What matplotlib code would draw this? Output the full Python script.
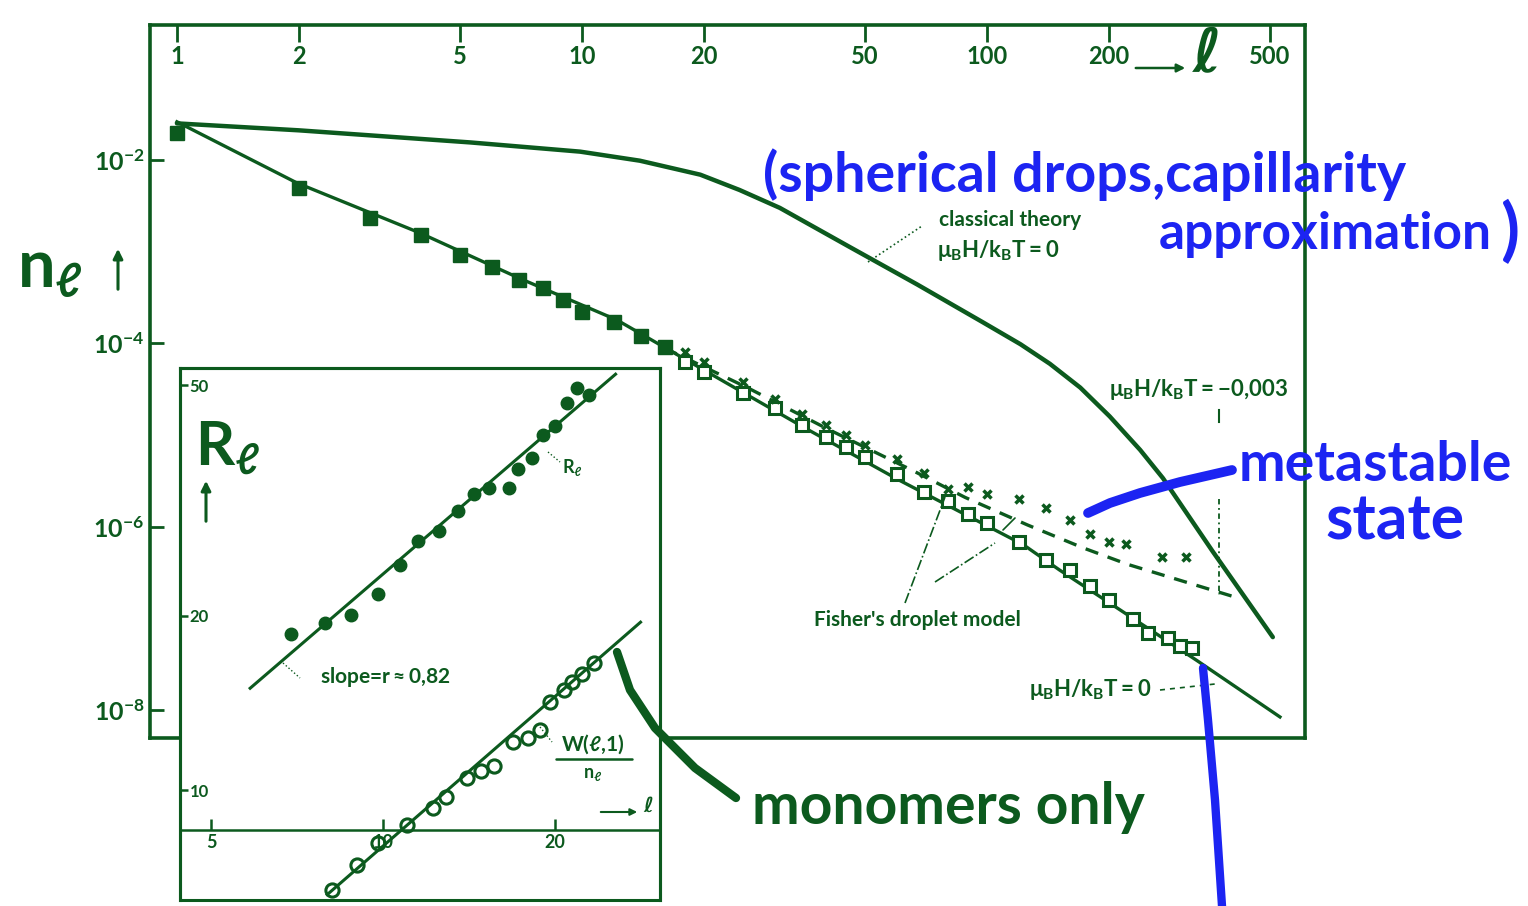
import matplotlib
matplotlib.use('Agg')
import matplotlib.pyplot as plt
from matplotlib.lines import Line2D
from matplotlib.patches import FancyArrowPatch, Rectangle
from matplotlib.ticker import NullLocator

GREEN = '#0c5a1e'
BLUE = '#1c24f2'
W, H = 1528, 906

plt.rcParams['font.family'] = ['Lato', 'DejaVu Sans']
plt.rcParams['font.weight'] = 'bold'
plt.rcParams['mathtext.fontset'] = 'custom'
plt.rcParams['mathtext.rm'] = 'Lato:bold'
plt.rcParams['mathtext.it'] = 'Lato:bold'
plt.rcParams['mathtext.bf'] = 'Lato:bold'

# ---- main panel: cluster size distribution n_l vs l ----
sq_l = [1, 2, 3, 4, 5, 6, 7, 8, 9, 10, 12, 14, 16]
sq_n = [1.95e-2, 4.9e-3, 2.3e-3, 1.5e-3, 9.3e-4, 6.8e-4, 4.9e-4, 4.0e-4,
        3.0e-4, 2.2e-4, 1.7e-4, 1.2e-4, 9.1e-5]
open_l = [18, 20, 25, 30, 35, 40, 45, 50, 60, 70, 80, 90, 100, 120, 140,
          160, 180, 200, 230, 250, 280, 300, 320]
open_n = [6.3e-5, 4.9e-5, 2.9e-5, 2.0e-5, 1.3e-5, 9.5e-6, 7.4e-6, 5.8e-6,
          3.8e-6, 2.4e-6, 1.9e-6, 1.4e-6, 1.1e-6, 6.8e-7, 4.4e-7, 3.4e-7,
          2.3e-7, 1.6e-7, 1.0e-7, 6.9e-8, 6.2e-8, 5.1e-8, 4.8e-8]
cross_l = [18, 20, 25, 30, 35, 40, 45, 50, 60, 70, 80, 90, 100, 120, 140,
           160, 180, 200, 220, 270, 310]
cross_n = [8.1e-5, 6.3e-5, 3.8e-5, 2.5e-5, 1.7e-5, 1.3e-5, 1.0e-5, 7.8e-6,
           5.5e-6, 3.9e-6, 2.6e-6, 2.7e-6, 2.3e-6, 2.0e-6, 1.6e-6, 1.2e-6,
           8.3e-7, 6.8e-7, 6.6e-7, 4.7e-7, 4.7e-7]
classical_l = [1, 2.0, 5.3, 9.9, 13.9, 19.6, 24.5, 30.8, 45.9, 67.2, 97.7,
               121, 143, 170, 201, 239, 272, 361, 508]
classical_n = [2.5e-2, 2.1e-2, 1.55e-2, 1.23e-2, 9.8e-3, 6.9e-3, 4.7e-3, 3.0e-3,
               1.12e-3, 4.4e-4, 1.7e-4, 9.8e-5, 6.0e-5, 3.3e-5, 1.6e-5, 6.9e-6,
               3.4e-6, 5.4e-7, 6.3e-8]
fisher0_l = [1, 1.98, 3.98, 7.03, 12.2, 19.6, 35.5, 61, 123, 151, 330, 529]
fisher0_n = [2.6e-2, 5.6e-3, 1.6e-3, 5.1e-4, 1.8e-4, 5.4e-5, 1.2e-5, 3.2e-6,
             6.4e-7, 3.4e-7, 3.5e-8, 8.5e-9]
fisherh_l = [16.0, 25.6, 40.7, 65.7, 88.3, 126, 173, 223, 421]
fisherh_n = [8.9e-5, 3.3e-5, 1.15e-5, 4.1e-6, 2.1e-6, 1.05e-6, 5.9e-7, 3.9e-7, 1.66e-7]
limit_l = 374
limit_top = [1.86e-5, 1.38e-5]
limit_low = [2.0e-6, 1.8e-7]

x_ticks = [1, 2, 5, 10, 20, 50, 100, 200, 500]
y_ticks = [1e-2, 1e-4, 1e-6, 1e-8]
y_labels = [r'$10^{-2}$', r'$10^{-4}$', r'$10^{-6}$', r'$10^{-8}$']

# ---- inset: R_l and W(l,1)/n_l vs l ----
r_l = [6.9, 7.9, 8.8, 9.8, 10.7, 11.5, 12.5, 13.5, 14.4, 15.3, 16.6, 17.2,
       18.2, 19.0, 20.0, 21.0, 21.8, 22.9]
r_val = [18.6, 19.4, 20.1, 21.8, 24.5, 26.9, 28.0, 30.3, 32.5, 33.2, 33.2,
         35.8, 37.4, 41.0, 42.5, 46.5, 49.4, 48.1]
r_fit_l = [5.85, 25.5]
r_fit = [15.0, 52.2]
w_l = [8.15, 9.0, 9.8, 11.0, 12.2, 12.9, 14.0, 14.8, 15.6, 16.9, 17.9, 18.8,
       19.6, 20.7, 21.4, 22.3, 23.4]
w_val = [6.73, 7.43, 8.11, 8.71, 9.33, 9.75, 10.5, 10.8, 11.0, 12.1, 12.3,
         12.7, 14.2, 14.9, 15.4, 15.9, 16.6]
w_fit_l = [7.98, 28.2]
w_fit = [6.61, 19.5]
in_xticks = [5, 10, 20]
in_yticks = [10, 20, 50]
in_axis_level = 8.55


def P(x, y):
    return (x / W, 1 - y / H)


def ftext(x, y, s, size, color=GREEN, **kw):
    fig.text(*P(x, y), s, fontsize=size, color=color, ha=kw.pop('ha', 'center'),
             va=kw.pop('va', 'center'), zorder=10, **kw)


def fline(pts, color=GREEN, lw=1.5, ls='-', **kw):
    xs = [p[0] / W for p in pts]
    ys = [1 - p[1] / H for p in pts]
    fig.add_artist(Line2D(xs, ys, color=color, lw=lw, ls=ls, zorder=10,
                          solid_capstyle='round', transform=fig.transFigure, **kw))


def farrow(p0, p1, lw=2.2, scale=14):
    fig.add_artist(FancyArrowPatch(P(*p0), P(*p1), arrowstyle='-|>', mutation_scale=scale,
                                   lw=lw, color=GREEN, transform=fig.transFigure, zorder=10))


fig = plt.figure(figsize=(W / 100, H / 100), dpi=100)
fig.patch.set_facecolor('white')

ax = fig.add_axes([150 / W, 1 - 738 / H, 1155 / W, 713 / H])
ax.set_xscale('log')
ax.set_yscale('log')
ax.set_xlim(0.858, 610)
ax.set_ylim(10 ** -8.30, 10 ** -0.53)

ax.plot(classical_l, classical_n, color=GREEN, lw=3.2, solid_capstyle='round')
ax.plot(fisher0_l, fisher0_n, color=GREEN, lw=2.4)
ax.plot(fisherh_l, fisherh_n, color=GREEN, lw=2.4, ls=(0, (4, 3)))
ax.plot(sq_l, sq_n, 's', color=GREEN, ms=10)
ax.plot(open_l, open_n, 's', mfc='white', mec=GREEN, mew=2.2, ms=8.5)
ax.plot(cross_l, cross_n, 'x', color=GREEN, ms=6, mew=2.5)
ax.plot([limit_l, limit_l], limit_top, color=GREEN, lw=1.5)
ax.plot([limit_l, limit_l], limit_low, color=GREEN, lw=1.3, ls=(0, (3, 2, 1, 2)))

for s in ax.spines.values():
    s.set_color(GREEN)
    s.set_linewidth(2.6)
ax.xaxis.set_minor_locator(NullLocator())
ax.yaxis.set_minor_locator(NullLocator())
ax.set_xticks(x_ticks)
ax.tick_params(axis='x', direction='in', top=True, bottom=False, labeltop=False,
               labelbottom=False, length=12, width=2, color=GREEN)
for v in x_ticks:
    ax.text(v, 0.972, str(v), transform=ax.get_xaxis_transform(), ha='center',
            va='top', fontsize=17, color=GREEN)
ax.set_yticks(y_ticks, labels=y_labels)
ax.tick_params(axis='y', direction='in', length=10, width=2, color=GREEN,
               labelcolor=GREEN, labelsize=18, pad=4)

# inset
axi = fig.add_axes([180 / W, 1 - 900 / H, 480 / W, 532 / H], zorder=5)
axi.set_facecolor('white')
axi.set_xscale('log')
axi.set_yscale('log')
axi.set_xlim(4.41, 30.5)
axi.set_ylim(6.47, 53.5)
axi.plot(r_fit_l, r_fit, color=GREEN, lw=2.2)
axi.plot(w_fit_l, w_fit, color=GREEN, lw=2.2)
axi.plot(r_l, r_val, 'o', color=GREEN, ms=9)
axi.plot(w_l, w_val, 'o', mfc='none', mec=GREEN, mew=2.2, ms=9.5)
for k in ('left', 'right', 'top'):
    axi.spines[k].set_color(GREEN)
    axi.spines[k].set_linewidth(2.2)
axi.spines['bottom'].set_position(('data', in_axis_level))
axi.spines['bottom'].set_color(GREEN)
axi.spines['bottom'].set_linewidth(1.8)
axi.add_patch(Rectangle((0, 0), 1, 1, transform=axi.transAxes, fill=False,
                        ec=GREEN, lw=2.2, clip_on=False))
axi.xaxis.set_minor_locator(NullLocator())
axi.yaxis.set_minor_locator(NullLocator())
axi.set_xticks(in_xticks, labels=[str(v) for v in in_xticks])
axi.set_yticks(in_yticks, labels=[str(v) for v in in_yticks])
axi.tick_params(axis='x', direction='in', length=8, width=1.8, color=GREEN,
                labelcolor=GREEN, labelsize=13, pad=3)
axi.tick_params(axis='y', direction='in', length=6, width=1.8, color=GREEN,
                labelcolor=GREEN, labelsize=12, pad=-7)
for lbl in axi.get_yticklabels():
    lbl.set_horizontalalignment('left')

# axis labels (handwritten style)
ftext(50, 268, r'$n_\ell$', 48)
farrow((118, 292), (118, 246))
ftext(1207, 55, '\u2113', 44, family=['DejaVu Sans'])
farrow((1133, 68), (1188, 68), lw=1.8, scale=12)
ftext(228, 448, r'$R_\ell$', 44)
farrow((206, 524), (206, 478))
ftext(648, 806, '\u2113', 15, family=['DejaVu Sans'])
farrow((598, 812), (640, 812), lw=1.5, scale=10)

# printed annotations
ftext(1010, 220, 'classical theory', 15)
ftext(998, 250, r'$\mu_B H/k_B T = 0$', 16)
fline([(868, 262), (922, 226)], lw=1.2, ls=':')
ftext(1198, 390, r'$\mu_B H/k_B T = -0{,}003$', 16)
ftext(917, 620, "Fisher's droplet model", 15)
fline([(905, 603), (945, 497)], lw=1.2, ls='-.')
fline([(935, 582), (995, 543)], lw=1.2, ls='-.')
fline([(1003, 530), (1015, 518)], lw=1.2)
ftext(1090, 690, r'$\mu_B H/k_B T = 0$', 16)
fline([(1160, 690), (1215, 684)], lw=1.2, ls=(0, (3, 3)))
ftext(385, 677, r'slope=r$\approx$0,82', 15)
fline([(283, 663), (300, 678)], lw=1.0, ls=':')
ftext(572, 468, r'$R_\ell$', 13)
fline([(548, 452), (560, 462)], lw=1.0, ls=':')
ftext(593, 744, r'W($\ell$,1)', 15)
fline([(556, 759), (632, 759)], lw=1.8)
ftext(593, 775, r'$n_\ell$', 13)
fline([(540, 727), (552, 742)], lw=1.0, ls=':')

# handwritten notes
ftext(1085, 175, '(spherical drops,capillarity', 40, color=BLUE)
ftext(1325, 235, 'approximation', 37, color=BLUE)
ftext(1510, 232, ')', 50, color=BLUE)
ftext(1375, 465, 'metastable', 40, color=BLUE)
ftext(1395, 522, 'state', 45, color=BLUE)
fline([(1088, 513), (1110, 503), (1140, 493), (1180, 482), (1232, 470)], color=BLUE, lw=7)
fline([(1203, 668), (1208, 720), (1215, 800), (1222, 906)], color=BLUE, lw=6)
ftext(948, 808, 'monomers only', 41)
fline([(617, 652), (630, 690), (655, 728), (695, 768), (736, 798)], lw=6)

fig.savefig('out.png', dpi=100)
